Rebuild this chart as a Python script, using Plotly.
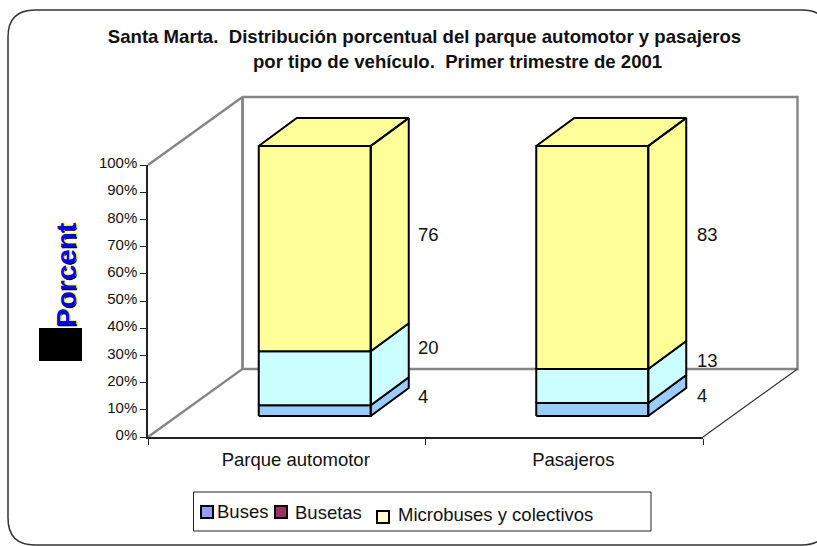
import plotly.graph_objects as go

# ---- data ----
categories = ["Parque automotor", "Pasajeros"]
series_names = ["Buses", "Busetas", "Microbuses y colectivos"]
buses = [4.0, 4.8]
busetas = [20.0, 12.6]
microbuses = [76.0, 82.6]
buses_labels = ["4", "4"]
busetas_labels = ["20", "13"]
microbuses_labels = ["76", "83"]
y_ticks = [0, 10, 20, 30, 40, 50, 60, 70, 80, 90, 100]

# ---- styles / layout constants ----
W, H = 817, 546
AX_L, AX_R, AX_T, AX_B = 148, 703, 165, 437
PX_X = (AX_R - AX_L) / 2
PX_Y = (AX_B - AX_T) / 100
bar_colors = ["#99CCFF", "#CCFFFF", "#FFFF99"]
legend_colors = ["#9999FF", "#993366", "#FFFFCC"]
FONT = "Liberation Sans, Arial, sans-serif"
TXT = "#111111"
GRAY = "#858585"

WALL_DX, WALL_DY = 94.5 / PX_X, 68 / PX_Y
GAP_DX, GAP_DY = 28 / PX_X, 21 / PX_Y
BAR_DX, BAR_DY = 38 / PX_X, 28 / PX_Y
HALF_W = 56 / PX_X
VSCALE = 2.70 / PX_Y


def px(x):
    return x / W


def py(y):
    return 1 - y / H


fig = go.Figure()

# walls and floor edges, in the data space of the main axes
wx0, wx1 = -0.5, 1.5
wall_x = [wx0, wx0 + WALL_DX, wx0 + WALL_DX, wx0, None,
          wx0 + WALL_DX, wx0 + WALL_DX, wx1 + WALL_DX, wx1 + WALL_DX, wx0 + WALL_DX]
wall_y = [100, 100 + WALL_DY, WALL_DY, 0, None,
          100 + WALL_DY, WALL_DY, WALL_DY, 100 + WALL_DY, 100 + WALL_DY]
fig.add_trace(go.Scatter(x=wall_x, y=wall_y, mode="lines", hoverinfo="skip", showlegend=False,
                         line=dict(color=GRAY, width=2.4)))
fig.add_trace(go.Scatter(x=[wx1, wx1 + WALL_DX], y=[0, WALL_DY], mode="lines", hoverinfo="skip",
                         showlegend=False, line=dict(color="#333333", width=1.2)))

# stacked oblique bars
stacks = [buses, busetas, microbuses]
for s, (name, vals) in enumerate(zip(series_names, stacks)):
    xs, ys = [], []
    for i, v in enumerate(vals):
        base = sum(stacks[k][i] for k in range(s)) * VSCALE + GAP_DY
        top = base + v * VSCALE
        l = i - HALF_W + GAP_DX
        r = i + HALF_W + GAP_DX
        xs += [l, r, r, l, l, None]
        ys += [base, base, top, top, base, None]
        xs += [r, r + BAR_DX, r + BAR_DX, r, r, None]
        ys += [base, base + BAR_DY, top + BAR_DY, top, base, None]
        if s == len(stacks) - 1:
            xs += [l, r, r + BAR_DX, l + BAR_DX, l, None]
            ys += [top, top, top + BAR_DY, top + BAR_DY, top, None]
    fig.add_trace(go.Scatter(x=xs, y=ys, mode="lines", fill="toself", fillcolor=bar_colors[s],
                             line=dict(color="#000000", width=2), name=name, showlegend=False,
                             hoverinfo="name"))

# hidden trace that carries the visible category / percent axes
fig.add_trace(go.Scatter(x=categories, y=[0, 0], xaxis="x2", yaxis="y2", mode="markers",
                         marker=dict(opacity=0), showlegend=False, hoverinfo="skip"))

annotations = []

# data labels
label_sets = [buses_labels, busetas_labels, microbuses_labels]
label_shift_y = [[0, 0], [17, 12], [0, 9]]
label_shift_x = [7, 9]
for s, labels in enumerate(label_sets):
    for i, t in enumerate(labels):
        base = sum(stacks[k][i] for k in range(s)) * VSCALE + GAP_DY
        mid = base + stacks[s][i] * VSCALE / 2 + BAR_DY / 2
        annotations.append(dict(x=i + HALF_W + GAP_DX + BAR_DX, y=mid, xref="x", yref="y", text=t,
                                showarrow=False, xanchor="left", yanchor="middle",
                                xshift=label_shift_x[i], yshift=label_shift_y[s][i],
                                font=dict(family=FONT, size=18.5, color=TXT)))

# second title line
annotations.append(dict(x=px(457), y=py(61), xref="paper", yref="paper",
                        text="<b>por tipo de vehículo.&nbsp; Primer trimestre de 2001</b>",
                        showarrow=False, xanchor="center", yanchor="middle",
                        font=dict(family=FONT, size=18.6, color=TXT)))

# rotated raster-like axis title
annotations.append(dict(x=px(66), y=py(275), xref="paper", yref="paper", text="<b>Porcent</b>",
                        textangle=-90, showarrow=False, xanchor="center", yanchor="middle",
                        font=dict(family="Liberation Sans, sans-serif", size=28, color="#0000FF",
                                  shadow="1px 1px 0 #FFFF00, -1px 1px 0 #000000")))

# legend (hand-placed, entries are not aligned in the original)
leg_text = [(215, 511), (293, 512), (396, 514)]
leg_swatch = [(201, 506), (275, 506), (377, 511)]
for name, (tx, ty) in zip(series_names, leg_text):
    annotations.append(dict(x=px(tx), y=py(ty), xref="paper", yref="paper", text=name,
                            showarrow=False, xanchor="left", yanchor="middle",
                            font=dict(family=FONT, size=18.5, color=TXT)))

shapes = [
    dict(type="path", xref="paper", yref="paper", layer="below",
         path=(f"M {px(8)} {py(37)} Q {px(8)} {py(10)} {px(35)} {py(10)} "
               f"L {px(802)} {py(10)} Q {px(829)} {py(10)} {px(829)} {py(37)} "
               f"L {px(829)} {py(518)} Q {px(829)} {py(545)} {px(802)} {py(545)} "
               f"L {px(35)} {py(545)} Q {px(8)} {py(545)} {px(8)} {py(518)} Z"),
         line=dict(color="#333333", width=1.5)),
    dict(type="rect", xref="paper", yref="paper", x0=px(39), x1=px(82), y0=py(361), y1=py(328),
         fillcolor="#000000", line=dict(width=0), layer="below"),
    dict(type="rect", xref="paper", yref="paper", x0=px(193.5), x1=px(651), y0=py(531), y1=py(492),
         fillcolor="#FFFFFF", line=dict(color="#222222", width=1)),
]
for (sx, sy), c in zip(leg_swatch, legend_colors):
    shapes.append(dict(type="rect", xref="paper", yref="paper", x0=px(sx), x1=px(sx + 12),
                       y0=py(sy + 12), y1=py(sy), fillcolor=c, line=dict(color="#000000", width=2)))

fig.update_layout(
    width=W, height=H, margin=dict(l=0, r=0, t=0, b=0, autoexpand=False),
    paper_bgcolor="#FFFFFF", plot_bgcolor="rgba(0,0,0,0)", showlegend=False,
    title=dict(text="<b>Santa Marta.&nbsp; Distribución porcentual del parque automotor y pasajeros</b>",
               x=px(424.5), xanchor="center", y=py(36), yanchor="middle",
               font=dict(family=FONT, size=18.6, color=TXT)),
    xaxis=dict(domain=[0, 1], range=[-0.5 - AX_L / PX_X, -0.5 + (W - AX_L) / PX_X], visible=False),
    yaxis=dict(domain=[0, 1], range=[-(H - AX_B) / PX_Y, 100 + AX_T / PX_Y], visible=False),
    xaxis2=dict(domain=[px(AX_L), px(AX_R)], anchor="y2", type="category", categoryorder="array",
                categoryarray=categories, range=[-0.5, 1.5], tickson="boundaries",
                showgrid=False, zeroline=False, showline=True, linecolor="#222222", linewidth=1.5,
                ticks="outside", ticklen=6, tickcolor="#222222", tickwidth=1.2,
                ticklabelshift=9, ticklabelstandoff=5,
                tickfont=dict(family=FONT, size=18.5, color=TXT)),
    yaxis2=dict(domain=[py(AX_B), py(AX_T)], anchor="x2", range=[0, 100], tickmode="array",
                tickvals=y_ticks, ticktext=[f"{v}%" for v in y_ticks],
                showgrid=False, zeroline=False, showline=True, linecolor="#222222", linewidth=1.5,
                ticks="outside", ticklen=6, tickcolor="#222222", tickwidth=1.2,
                ticklabelshift=-2,
                tickfont=dict(family=FONT, size=15, color=TXT)),
    annotations=annotations, shapes=shapes,
)

fig.write_html("out.html", config=dict(displayModeBar=False),
               post_script="document.body.style.margin='0';")
